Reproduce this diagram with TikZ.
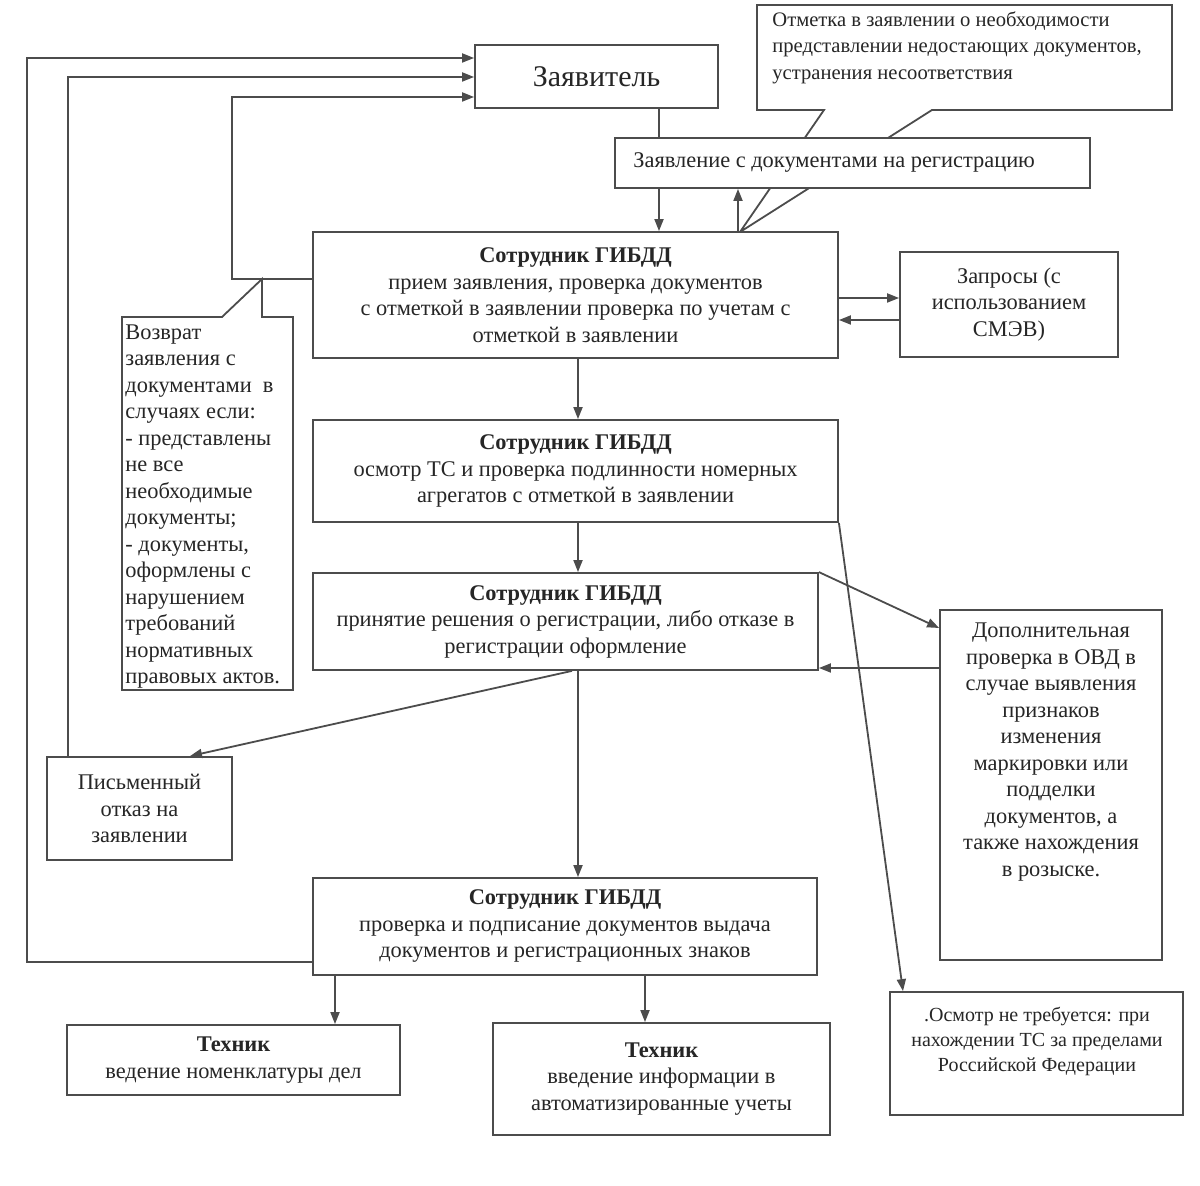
\documentclass[tikz,border=0pt]{standalone}
\usepackage{fontspec}
\setmainfont{Liberation Serif}
\usetikzlibrary{arrows.meta,calc}
\definecolor{lc}{gray}{0.3}
\definecolor{tc}{gray}{0.15}
\newcommand\fs{\fontsize{11.2}{13.25}\selectfont}
\tikzset{
 bx/.style={draw=lc, line width=0.9pt, fill=white, inner sep=0pt, align=center, text=tc, font=\fs},
 txt/.style={inner sep=0pt, align=center, text=tc, font=\fs},
 arr/.style={draw=lc, line width=0.9pt, -{Triangle[length=6pt,width=4.5pt]}},
 ln/.style={draw=lc, line width=0.9pt},
}
\begin{document}
\begin{tikzpicture}[x=0.5pt,y=-0.5pt]
\useasboundingbox[fill=white] (0,0) rectangle (1200,1186);
% helper coordinates
\foreach \v in {27,68,190,232,335,572,578,645,659,738,903}{\coordinate (v\v) at (\v,0);}
\foreach \h in {58,77,97,279,298,320,628,668,962}{\coordinate (h\h) at (0,\h);}

% top callout
\draw[ln, fill=white] (757,5) -- (1172,5) -- (1172,110) -- (932,110) -- (740,232) -- (824,110) -- (757,110) -- cycle;
\node[txt, align=left, anchor=north west, font=\fontsize{10.3}{13.25}\selectfont] (otm) at (772,11)
 {Отметка в заявлении о необходимости\\представлении недостающих документов,\\устранения несоответствия};

\node[bx, minimum width=121.5pt, minimum height=31.5pt, font=\fontsize{15}{18}\selectfont] (zay) at (596.5,76.5) {Заявитель};
\node[bx, minimum width=237.5pt, minimum height=25pt] (zdoc) at (852.5,163) {};
\node[txt, anchor=west] (zdoct) at (633,163) {Заявление с документами на регистрацию};

\node[bx, minimum width=262.5pt, minimum height=63pt] (s1) at (575.5,295)
 {\textbf{Сотрудник ГИБДД}\\прием заявления, проверка документов\\с отметкой в заявлении проверка по учетам с\\отметкой в заявлении};
\node[bx, minimum width=109pt, minimum height=52.5pt] (zap) at (1009,304.5)
 {Запросы (с\\использованием\\СМЭВ)};
\node[bx, minimum width=262.5pt, minimum height=51pt] (s2) at (575.5,471)
 {\textbf{Сотрудник ГИБДД}\\осмотр ТС и проверка подлинности номерных\\агрегатов с отметкой в заявлении};
\node[bx, minimum width=252.5pt, minimum height=48.5pt] (s3) at (565.5,621.5)
 {\textbf{Сотрудник ГИБДД}\\принятие решения о регистрации, либо отказе в\\регистрации оформление};
\node[bx, minimum width=111pt, minimum height=175pt] (dop) at (1051,785) {};
\node[txt] (dopt) at (1051,752)
 {Дополнительная\\проверка в ОВД в\\случае выявления\\признаков\\изменения\\маркировки или\\подделки\\документов, а\\также нахождения\\в розыске.};
\node[bx, minimum width=92.5pt, minimum height=51.5pt] (pis) at (139.5,808.5)
 {Письменный\\отказ на\\заявлении};
\node[bx, minimum width=252pt, minimum height=48.5pt] (s4) at (565,926.5)
 {\textbf{Сотрудник ГИБДД}\\проверка и подписание документов выдача\\документов и регистрационных знаков};
\node[bx, minimum width=146.5pt, minimum height=61.5pt] (osm) at (1036.5,1053.5) {};
\node[txt, font=\fontsize{10}{12.5}\selectfont] (osmt) at (1037,1041)
 {.Осмотр не требуется: при\\нахождении ТС за пределами\\Российской Федерации};
\node[bx, minimum width=166.5pt, minimum height=35pt] (t1) at (233.5,1060)
 {\textbf{Техник}\\ведение номенклатуры дел};
\node[bx, minimum width=168.5pt, minimum height=56pt] (t2) at (661.5,1079)
 {\textbf{Техник}\\введение информации в\\автоматизированные учеты};

% left callout
\draw[ln, fill=white] (122,317) -- (222,317) -- (262,279) -- (262,317) -- (293,317) -- (293,690) -- (122,690) -- cycle;
\node[txt, align=left, anchor=north west] (vozv) at (125,324)
 {Возврат\\заявления с\\документами~ в\\случаях если:\\- представлены\\не все\\необходимые\\документы;\\- документы,\\оформлены с\\нарушением\\требований\\нормативных\\правовых актов.};

% connectors
\draw[ln] (zay.south -| v659) -- (zdoc.north -| v659);
\draw[arr] (zdoc.south -| v659) -- (s1.north -| v659);
\draw[arr] (s1.north -| v738) -- (zdoc.south -| v738);
\draw[arr] (s1.east |- h298) -- (zap.west |- h298);
\draw[arr] (zap.west |- h320) -- (s1.east |- h320);
\draw[arr] (s1.south -| v578) -- (s2.north -| v578);
\draw[arr] (s2.south -| v578) -- (s3.north -| v578);
\draw[arr] (s3.south -| v578) -- (s4.north -| v578);
\draw[arr] (s3.north east) -- (dop.west |- h628);
\draw[arr] (dop.west |- h668) -- (s3.east |- h668);
\draw[arr] (s2.south east) -- (osm.north -| v903);
\draw[arr] (s3.south -| v572) -- (pis.north -| v190);
\draw[arr] (s4.south -| v335) -- (t1.north -| v335);
\draw[arr] (s4.south -| v645) -- (t2.north -| v645);
\draw[arr] (s1.west |- h279) -- (v232 |- h279) -- (v232 |- h97) -- (zay.west |- h97);
\draw[arr] (pis.north -| v68) -- (v68 |- h77) -- (zay.west |- h77);
\draw[arr] (s4.west |- h962) -- (v27 |- h962) -- (v27 |- h58) -- (zay.west |- h58);
\end{tikzpicture}
\end{document}
